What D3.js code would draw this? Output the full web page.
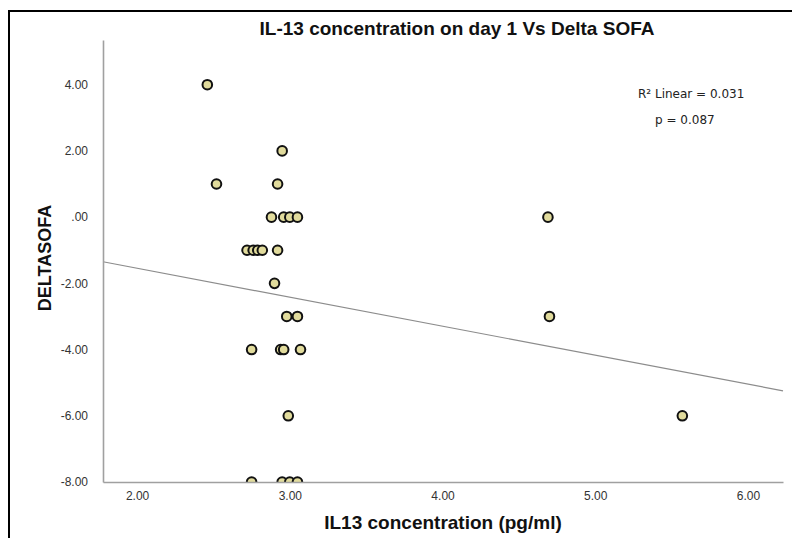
<!DOCTYPE html>
<html>
<head>
<meta charset="utf-8">
<script src="https://cdn.jsdelivr.net/npm/d3@7"></script>
<style>
  body { margin: 0; background: #fff; }
  svg { display: block; }
  .axis path { stroke: #a0a0a0; stroke-width: 1.6px; }
  .axis text { font: 12px "Liberation Sans", Arial, sans-serif; fill: #333; }
</style>
</head>
<body>
<div id="chartArea"></div>
<script>
// IL-13 day 1 concentration vs delta SOFA
var il13 = [2.46, 2.95, 2.52, 2.92,
            2.88, 2.96, 3.00, 3.05, 4.69,
            2.72, 2.76, 2.79, 2.82, 2.92,
            2.90,
            2.98, 3.05, 4.70,
            2.75, 2.94, 2.96, 3.07,
            2.99, 5.57,
            2.75, 2.95, 3.00, 3.05];
var deltaSofa = [4, 2, 1, 1,
                 0, 0, 0, 0, 0,
                 -1, -1, -1, -1, -1,
                 -2,
                 -3, -3, -3,
                 -4, -4, -4, -4,
                 -6, -6,
                 -8, -8, -8, -8];

var xTicks = [2, 3, 4, 5, 6];
var xTickLabels = ["2.00", "3.00", "4.00", "5.00", "6.00"];
var yTicks = [4, 2, 0, -2, -4, -6, -8];
var yTickLabels = ["4.00", "2.00", ".00", "-2.00", "-4.00", "-6.00", "-8.00"];

// fit line as drawn (intercept, slope)
var fitIntercept = 0.21, fitSlope = -0.876;
var fitLabels = ["R\u00b2 Linear = 0.031", "p = 0.087"];

var chartTitle = "IL-13 concentration on day 1 Vs Delta SOFA";
var xTitle = "IL13 concentration (pg/ml)";
var yTitle = "DELTASOFA";

var width = 792, height = 538;
var svg = d3.select("#chartArea").append("svg")
    .attr("width", width).attr("height", height);

// frame (only top and left edges show in the picture)
svg.append("path")
    .attr("d", "M9,538 V11 H792")
    .attr("fill", "none")
    .attr("stroke", "#000")
    .attr("stroke-width", 2);

var x = d3.scaleLinear().domain([1.777, 6.229]).range([103, 783]);
var y = d3.scaleLinear().domain([-8, 5.35]).range([482, 40]);

svg.append("clipPath").attr("id", "plotClip")
    .append("rect")
    .attr("x", x.range()[0]).attr("y", y.range()[1])
    .attr("width", x.range()[1] - x.range()[0])
    .attr("height", y.range()[0] - y.range()[1]);

// fit line
var xd = x.domain();
svg.append("line")
    .attr("x1", x(xd[0])).attr("y1", y(fitIntercept + fitSlope * xd[0]))
    .attr("x2", x(xd[1])).attr("y2", y(fitIntercept + fitSlope * xd[1]))
    .attr("stroke", "#8c8c8c")
    .attr("stroke-width", 1.2);

// points
svg.append("g")
    .attr("clip-path", "url(#plotClip)")
    .selectAll("circle")
    .data(il13.map(function(d, i) { return {x: d, y: deltaSofa[i]}; }))
    .enter().append("circle")
    .attr("cx", function(d) { return x(d.x); })
    .attr("cy", function(d) { return y(d.y); })
    .attr("r", 4.8)
    .attr("fill", "#e1db9c")
    .attr("stroke", "#111")
    .attr("stroke-width", 2);

// axes
svg.append("g")
    .attr("class", "axis")
    .attr("transform", "translate(0," + y.range()[0] + ")")
    .call(d3.axisBottom(x).tickValues(xTicks).tickSize(0).tickPadding(9)
        .tickFormat(function(d, i) { return xTickLabels[i]; }));

svg.append("g")
    .attr("class", "axis")
    .attr("transform", "translate(" + x.range()[0] + ",0)")
    .call(d3.axisLeft(y).tickValues(yTicks).tickSize(0).tickPadding(15)
        .tickFormat(function(d, i) { return yTickLabels[i]; }));

// titles
svg.append("text")
    .attr("x", 457).attr("y", 35)
    .attr("text-anchor", "middle")
    .style("font", "bold 19px 'Liberation Sans', Arial, sans-serif")
    .style("fill", "#111")
    .text(chartTitle);

svg.append("text")
    .attr("x", 443).attr("y", 529)
    .attr("text-anchor", "middle")
    .style("font", "bold 19px 'Liberation Sans', Arial, sans-serif")
    .style("fill", "#111")
    .text(xTitle);

svg.append("text")
    .attr("transform", "translate(51,258) rotate(-90)")
    .attr("text-anchor", "middle")
    .style("font", "bold 18px 'Liberation Sans', Arial, sans-serif")
    .style("fill", "#111")
    .text(yTitle);

// fit annotation
svg.append("text")
    .attr("x", 638).attr("y", 98)
    .style("font", "12px 'DejaVu Sans', sans-serif")
    .style("fill", "#222")
    .text(fitLabels[0]);
svg.append("text")
    .attr("x", 655).attr("y", 124)
    .style("font", "12px 'DejaVu Sans', sans-serif")
    .style("fill", "#222")
    .text(fitLabels[1]);
</script>
</body>
</html>
